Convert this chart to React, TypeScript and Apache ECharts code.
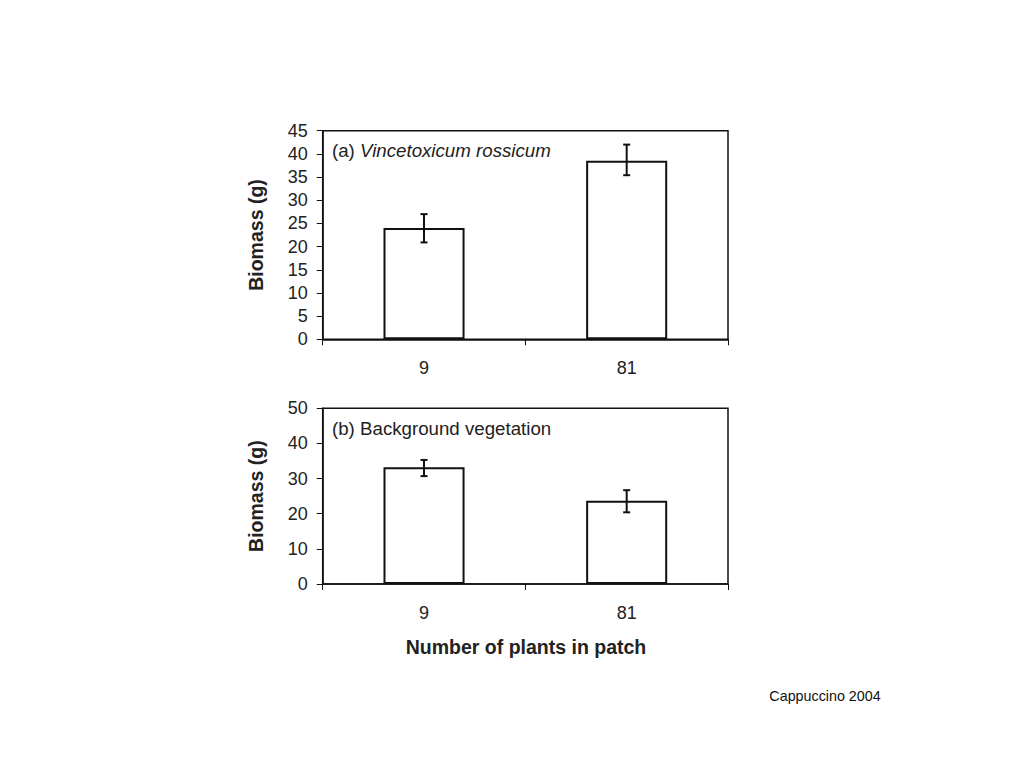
import React, { useEffect, useRef } from "react";
import * as echarts from "echarts";

const categories = ["9", "81"];
const topMeans = [24, 38.5];
const topLow = [20.9, 35.4];
const topHigh = [27.0, 42.0];
const bottomMeans = [33.2, 23.7];
const bottomLow = [30.7, 20.4];
const bottomHigh = [35.3, 26.7];

const FONT = "Liberation Sans, Arial, sans-serif";
const TXT = "#222";

function errorSeries(xIdx: number, low: number[], high: number[]) {
  return {
    type: "custom",
    xAxisIndex: xIdx,
    yAxisIndex: xIdx,
    z: 10,
    data: categories.map((_, i) => [i, low[i], high[i]]),
    encode: { x: 0, y: [1, 2] },
    renderItem: (params: any, api: any) => {
      const x = api.value(0);
      const lo = api.coord([x, api.value(1)]);
      const hi = api.coord([x, api.value(2)]);
      const hw = 3.5;
      const style = { stroke: "#111", lineWidth: 2 };
      return {
        type: "group",
        children: [
          { type: "line", shape: { x1: lo[0], y1: lo[1], x2: hi[0], y2: hi[1] }, style },
          { type: "line", shape: { x1: lo[0] - hw, y1: lo[1], x2: lo[0] + hw, y2: lo[1] }, style },
          { type: "line", shape: { x1: hi[0] - hw, y1: hi[1], x2: hi[0] + hw, y2: hi[1] }, style },
        ],
      };
    },
  };
}

function xAxis(gridIndex: number) {
  return {
    type: "category",
    gridIndex,
    data: categories,
    boundaryGap: true,
    axisLine: { show: true, lineStyle: { color: "#111", width: 1.5 } },
    axisTick: { show: true, inside: false, length: 6, alignWithLabel: false, lineStyle: { color: "#111", width: 1 } },
    axisLabel: { color: TXT, fontSize: 18, fontFamily: FONT, margin: 20 },
    splitLine: { show: false },
  };
}

function yAxis(gridIndex: number, max: number, interval: number) {
  return {
    type: "value",
    gridIndex,
    min: 0,
    max,
    interval,
    name: "Biomass (g)",
    nameLocation: "middle",
    nameGap: 57,
    nameTextStyle: { color: TXT, fontSize: 19.5, fontWeight: "bold", fontFamily: FONT },
    axisLine: { show: true, lineStyle: { color: "#111", width: 1.5 } },
    axisTick: { show: true, inside: false, length: 6, lineStyle: { color: "#111", width: 1 } },
    axisLabel: { color: TXT, fontSize: 18, fontFamily: FONT, margin: 15 },
    splitLine: { show: false },
  };
}

function barSeries(idx: number, data: number[]) {
  return {
    type: "bar",
    xAxisIndex: idx,
    yAxisIndex: idx,
    data,
    barWidth: "40%",
    itemStyle: { color: "#fff", borderColor: "#111", borderWidth: 2 },
  };
}

export default function App() {
  const ref = useRef<HTMLDivElement>(null);
  useEffect(() => {
    if (!ref.current) return;
    const chart = echarts.init(ref.current, null, { renderer: "svg" });
    chart.setOption({
      animation: false,
      backgroundColor: "#fff",
      grid: [
        { left: 322.7, top: 130.7, width: 405.3, height: 208.6, show: true, borderColor: "#111", borderWidth: 1.5, backgroundColor: "transparent" },
        { left: 322.7, top: 408.3, width: 405.3, height: 175.7, show: true, borderColor: "#111", borderWidth: 1.5, backgroundColor: "transparent" },
      ],
      xAxis: [xAxis(0), xAxis(1)],
      yAxis: [yAxis(0, 45, 5), yAxis(1, 50, 10)],
      series: [
        barSeries(0, topMeans),
        errorSeries(0, topLow, topHigh),
        barSeries(1, bottomMeans),
        errorSeries(1, bottomLow, bottomHigh),
      ],
      graphic: [
        {
          type: "text",
          x: 332,
          y: 150,
          style: {
            text: "(a) {i|Vincetoxicum rossicum}",
            font: `18.7px ${FONT}`,
            fill: TXT,
            textVerticalAlign: "middle",
            rich: { i: { fontStyle: "italic", fontSize: 18.7, fontFamily: FONT, fill: TXT } },
          },
        },
        {
          type: "text",
          x: 332,
          y: 428,
          style: { text: "(b) Background vegetation", font: `18.7px ${FONT}`, fill: TXT, textVerticalAlign: "middle" },
        },
        {
          type: "text",
          x: 526,
          y: 647,
          style: { text: "Number of plants in patch", font: `bold 19.5px ${FONT}`, fill: TXT, textAlign: "center", textVerticalAlign: "middle" },
        },
        {
          type: "text",
          x: 825,
          y: 696,
          style: { text: "Cappuccino 2004", font: `14.3px ${FONT}`, fill: "#111", textAlign: "center", textVerticalAlign: "middle" },
        },
      ],
    });
    return () => chart.dispose();
  }, []);
  return <div ref={ref} style={{ position: "fixed", left: 0, top: 0, width: 1024, height: 768 }} />;
}
